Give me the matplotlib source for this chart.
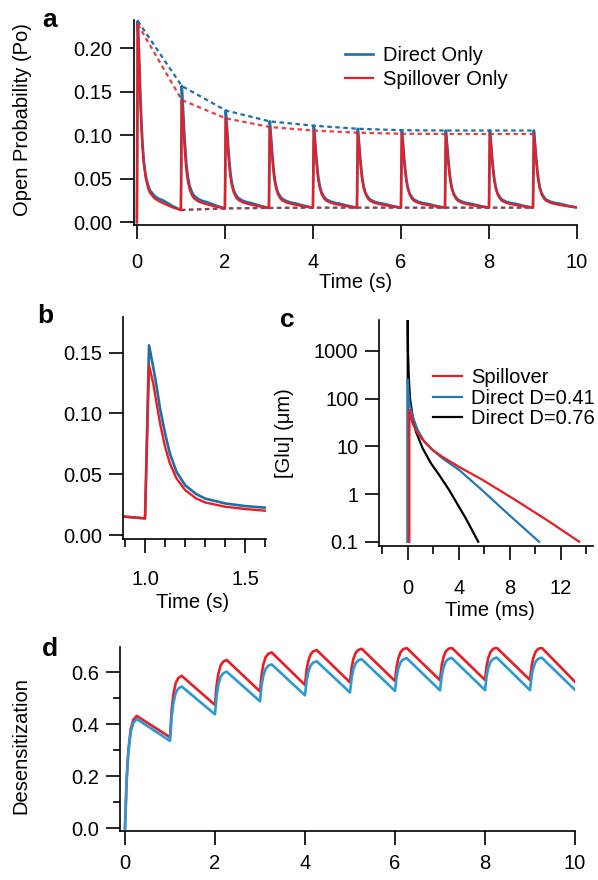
import numpy as np
import matplotlib
matplotlib.use("Agg")
import matplotlib.pyplot as plt
from matplotlib.ticker import FixedLocator, NullLocator, FixedFormatter

plt.rcParams['font.family'] = ['Liberation Sans', 'DejaVu Sans']
plt.rcParams['font.size'] = 14.5

RED = '#ec1c24'
BLUE_A = '#1f6ea6'
BLUE_C = '#2179b5'
BLUE_D = '#2b9ad4'

# ---------------- Panel a data ----------------
PULSE_TIMES_A = [0, 1, 2, 3, 4, 5, 6, 7, 8, 9]
PEAK_DIRECT_A = [0.2314, 0.1567, 0.1285, 0.1160, 0.1110, 0.1075, 0.1058, 0.1055, 0.1055, 0.1055]
PEAK_SPILL_A = [0.2276, 0.1406, 0.1195, 0.1095, 0.1055, 0.1030, 0.1018, 0.1015, 0.1015, 0.1015]
TROUGH_A = [0.0141, 0.0160, 0.0165, 0.0168, 0.0168, 0.0168, 0.0168, 0.0168, 0.0168, 0.0170]  # t = 1..10
DECAY_OFFSET = [0.0, 0.02, 0.041, 0.058, 0.075, 0.10, 0.124, 0.157, 0.20, 0.255, 0.30, 0.40, 0.50, 0.60, 0.80, 1.0]
DECAY_FRAC_DIRECT = [0, 1.0, 0.872, 0.758, 0.630, 0.485, 0.367, 0.260, 0.181, 0.130, 0.103, 0.075, 0.059, 0.050, 0.022, 0.0]
DECAY_FRAC_SPILL = [0, 1.0, 0.881, 0.745, 0.614, 0.460, 0.349, 0.250, 0.173, 0.117, 0.091, 0.063, 0.048, 0.036, 0.015, 0.0]

# ---------------- Panel b data ----------------
B_TIME = [0.90, 1.0, 1.02, 1.041, 1.058, 1.075, 1.10, 1.124, 1.157, 1.20, 1.255, 1.30, 1.40, 1.50, 1.60]
B_DIRECT = [0.0151, 0.0137, 0.156, 0.138, 0.122, 0.104, 0.0836, 0.067, 0.052, 0.041, 0.0337, 0.030, 0.026, 0.0238, 0.0225]
B_SPILL = [0.0151, 0.0137, 0.1397, 0.1247, 0.108, 0.0918, 0.0726, 0.0589, 0.0466, 0.037, 0.0301, 0.0268, 0.0233, 0.0214, 0.0200]

# ---------------- Panel c data ----------------
C_T_SPILL = [0.13, 0.13, 0.26, 0.39, 0.78, 1.3, 1.95, 2.73, 4.03, 5.84, 8.44, 11.04, 13.45]
C_V_SPILL = [0.1, 58, 42, 30, 18.6, 12.6, 8.4, 6.0, 3.7, 2.0, 0.75, 0.27, 0.1]
C_T_D041 = [0.0, 0.0, 0.05, 0.13, 0.39, 0.78, 1.3, 1.95, 2.73, 4.03, 5.84, 7.92, 10.3]
C_V_D041 = [0.1, 250, 150, 80, 42, 22, 12.6, 8.4, 5.6, 3.2, 1.2, 0.37, 0.1]
C_T_D076 = [0.0, 0.0, 0.02, 0.08, 0.18, 0.39, 0.65, 1.17, 1.82, 2.47, 3.25, 4.55, 5.53]
C_V_D076 = [0.1, 4500, 1000, 300, 100, 42, 20, 9.1, 4.4, 2.5, 1.21, 0.31, 0.1]

# ---------------- Panel d data ----------------
D_PEAK_SPILL = [0.432, 0.586, 0.647, 0.676, 0.685, 0.690, 0.693, 0.694, 0.694, 0.694]
D_TROUGH_SPILL = [0.350, 0.474, 0.526, 0.551, 0.561, 0.566, 0.569, 0.570, 0.570, 0.563]  # t = 1..10
D_PEAK_DIRECT = [0.420, 0.545, 0.602, 0.630, 0.642, 0.650, 0.654, 0.655, 0.656, 0.656]
D_TROUGH_DIRECT = [0.336, 0.438, 0.488, 0.511, 0.522, 0.528, 0.530, 0.531, 0.531, 0.532]
RISE_OFFSET = [0.0, 0.037, 0.074, 0.126, 0.185, 0.26]
RISE_FRAC = [0.0, 0.44, 0.69, 0.88, 0.965, 1.0]


def build_a(peaks, troughs, frac):
    t, v = [], []
    for i, n in enumerate(PULSE_TIMES_A):
        s = 0.0 if i == 0 else troughs[i - 1]
        e = troughs[i]
        p = peaks[i]
        for off, f in zip(DECAY_OFFSET, frac):
            t.append(n + off)
            v.append(s if off == 0 else e + (p - e) * f)
    return t, v


def build_d(peaks, troughs):
    t, v = [], []
    for i, p in enumerate(peaks):
        s = 0.0 if i == 0 else troughs[i - 1]
        for off, f in zip(RISE_OFFSET, RISE_FRAC):
            t.append(i + off)
            v.append(s + (p - s) * f)
        t.append(i + 1)
        v.append(troughs[i])
    return t, v


W, H = 598, 880
fig = plt.figure(figsize=(W / 100, H / 100), dpi=100)


def add_ax(l, r, t, b):
    return fig.add_axes([l / W, 1 - b / H, (r - l) / W, (b - t) / H])


def style(ax):
    for s in ('top', 'right'):
        ax.spines[s].set_visible(False)
    for s in ('left', 'bottom'):
        ax.spines[s].set_linewidth(1.2)
    ax.tick_params(which='both', direction='out', width=1.2, labelsize=14.5)


# ---------------- Panel a ----------------
ax = add_ax(133.5, 577, 20, 225)
style(ax)
ta, vd = build_a(PEAK_DIRECT_A, TROUGH_A, DECAY_FRAC_DIRECT)
ta2, vs = build_a(PEAK_SPILL_A, TROUGH_A, DECAY_FRAC_SPILL)
pk_t = [n + 0.02 for n in PULSE_TIMES_A]
ax.plot(pk_t, PEAK_DIRECT_A, color=BLUE_A, lw=1.6, ls=(0, (2, 1.6)))
ax.plot(pk_t, PEAK_SPILL_A, color=RED, lw=1.6, ls=(0, (2, 1.6)), alpha=0.85)
ax.plot(PULSE_TIMES_A[1:], TROUGH_A[:-1], color=BLUE_A, lw=1.6, ls=(0, (2, 1.6)))
ax.plot(PULSE_TIMES_A[1:], TROUGH_A[:-1], color=RED, lw=1.6, ls=(0, (2, 1.6)), alpha=0.6)
ax.plot(ta, vd, color=BLUE_A, lw=1.9, label='Direct Only')
ax.plot(ta2, vs, color=RED, lw=1.6, label='Spillover Only')
ax.set_xlim(-0.077, 10)
ax.set_ylim(-0.0031, 0.2325)
ax.xaxis.set_major_locator(FixedLocator([0, 2, 4, 6, 8, 10]))
ax.yaxis.set_major_locator(FixedLocator([0, 0.05, 0.10, 0.15, 0.20]))
ax.yaxis.set_major_formatter(FixedFormatter(['0.00', '0.05', '0.10', '0.15', '0.20']))
ax.tick_params(axis='x', length=10, pad=10)
ax.tick_params(axis='y', length=10, pad=5)
ax.legend(loc='upper left', bbox_to_anchor=(345 / W, 1 - 46 / H), bbox_transform=fig.transFigure,
          frameon=False, handlelength=1.4, handletextpad=0.5, labelspacing=0.25,
          borderpad=0, borderaxespad=0, fontsize=14.5)
fig.text(23 / W, 1 - 120 / H, 'Open Probability (Po)', rotation=90, ha='center', va='center', fontsize=14.5)
fig.text(356 / W, 1 - 282 / H, 'Time (s)', ha='center', va='center', fontsize=14.5)
fig.text(50 / W, 1 - 20 / H, 'a', ha='center', va='center', fontsize=19, fontweight='bold')

# ---------------- Panel b ----------------
ax = add_ax(122.7, 265.7, 316.7, 539.3)
style(ax)
ax.plot(B_TIME, B_DIRECT, color=BLUE_A, lw=1.9)
ax.plot(B_TIME, B_SPILL, color=RED, lw=1.7)
ax.set_xlim(0.8886, 1.602)
ax.set_ylim(-0.0035, 0.1796)
ax.xaxis.set_major_locator(FixedLocator([1.0, 1.5]))
ax.xaxis.set_major_formatter(FixedFormatter(['1.0', '1.5']))
ax.xaxis.set_minor_locator(FixedLocator([0.9, 1.1, 1.2, 1.3, 1.4, 1.6]))
ax.yaxis.set_major_locator(FixedLocator([0, 0.05, 0.10, 0.15]))
ax.yaxis.set_major_formatter(FixedFormatter(['0.00', '0.05', '0.10', '0.15']))
ax.tick_params(axis='x', which='major', length=10, pad=12)
ax.tick_params(axis='x', which='minor', length=6)
ax.tick_params(axis='y', length=10, pad=5)
fig.text(193 / W, 1 - 602 / H, 'Time (s)', ha='center', va='center', fontsize=14.5)
fig.text(45 / W, 1 - 316 / H, 'b', ha='center', va='center', fontsize=19, fontweight='bold')

# ---------------- Panel c ----------------
ax = add_ax(379.3, 592.6, 320, 546)
style(ax)
ax.set_yscale('log')
ax.plot(C_T_D076, C_V_D076, color='black', lw=1.6, label='Direct D=0.76')
ax.plot(C_T_D041, C_V_D041, color=BLUE_C, lw=1.6, label='Direct D=0.41')
ax.plot(C_T_SPILL, C_V_SPILL, color=RED, lw=1.6, label='Spillover')
ax.set_xlim(-2.23, 14.5)
ax.set_ylim(10 ** -1.09, 10 ** 3.65)
ax.xaxis.set_major_locator(FixedLocator([0, 4, 8, 12]))
ax.xaxis.set_minor_locator(FixedLocator([-2, 2, 6, 10, 14]))
ax.yaxis.set_major_locator(FixedLocator([0.1, 1, 10, 100, 1000]))
ax.yaxis.set_major_formatter(FixedFormatter(['0.1', '1', '10', '100', '1000']))
ax.yaxis.set_minor_locator(NullLocator())
ax.tick_params(axis='x', which='major', length=10, pad=14)
ax.tick_params(axis='x', which='minor', length=6)
ax.tick_params(axis='y', length=10, pad=5)
h, l = ax.get_legend_handles_labels()
ax.legend(h[::-1], l[::-1], loc='upper left', bbox_to_anchor=(433 / W, 1 - 368 / H), bbox_transform=fig.transFigure,
          frameon=False, handlelength=1.45, handletextpad=0.45, labelspacing=0.08,
          borderpad=0, borderaxespad=0, fontsize=14.5)
fig.text(285 / W, 1 - 433 / H, '[Glu] (μm)', rotation=90, ha='center', va='center', fontsize=14.5)
fig.text(490 / W, 1 - 610 / H, 'Time (ms)', ha='center', va='center', fontsize=14.5)
fig.text(287 / W, 1 - 320 / H, 'c', ha='center', va='center', fontsize=19, fontweight='bold')

# ---------------- Panel d ----------------
ax = add_ax(120, 575, 646.7, 830.7)
style(ax)
td, vds = build_d(D_PEAK_SPILL, D_TROUGH_SPILL)
td2, vdd = build_d(D_PEAK_DIRECT, D_TROUGH_DIRECT)
ax.plot(td, vds, color=RED, lw=1.9)
ax.plot(td2, vdd, color=BLUE_D, lw=1.9)
ax.set_xlim(-0.111, 10)
ax.set_ylim(-0.0092, 0.698)
ax.xaxis.set_major_locator(FixedLocator([0, 2, 4, 6, 8, 10]))
ax.yaxis.set_major_locator(FixedLocator([0, 0.2, 0.4, 0.6]))
ax.yaxis.set_major_formatter(FixedFormatter(['0.0', '0.2', '0.4', '0.6']))
ax.yaxis.set_minor_locator(FixedLocator([0.1, 0.3, 0.5]))
ax.tick_params(axis='x', length=10, pad=7)
ax.tick_params(axis='y', which='major', length=10, pad=5)
ax.tick_params(axis='y', which='minor', length=5)
fig.text(21 / W, 1 - 746 / H, 'Desensitization', rotation=90, ha='center', va='center', fontsize=14.5)
fig.text(50 / W, 1 - 649 / H, 'd', ha='center', va='center', fontsize=19, fontweight='bold')

fig.savefig('out.png', dpi=100)
